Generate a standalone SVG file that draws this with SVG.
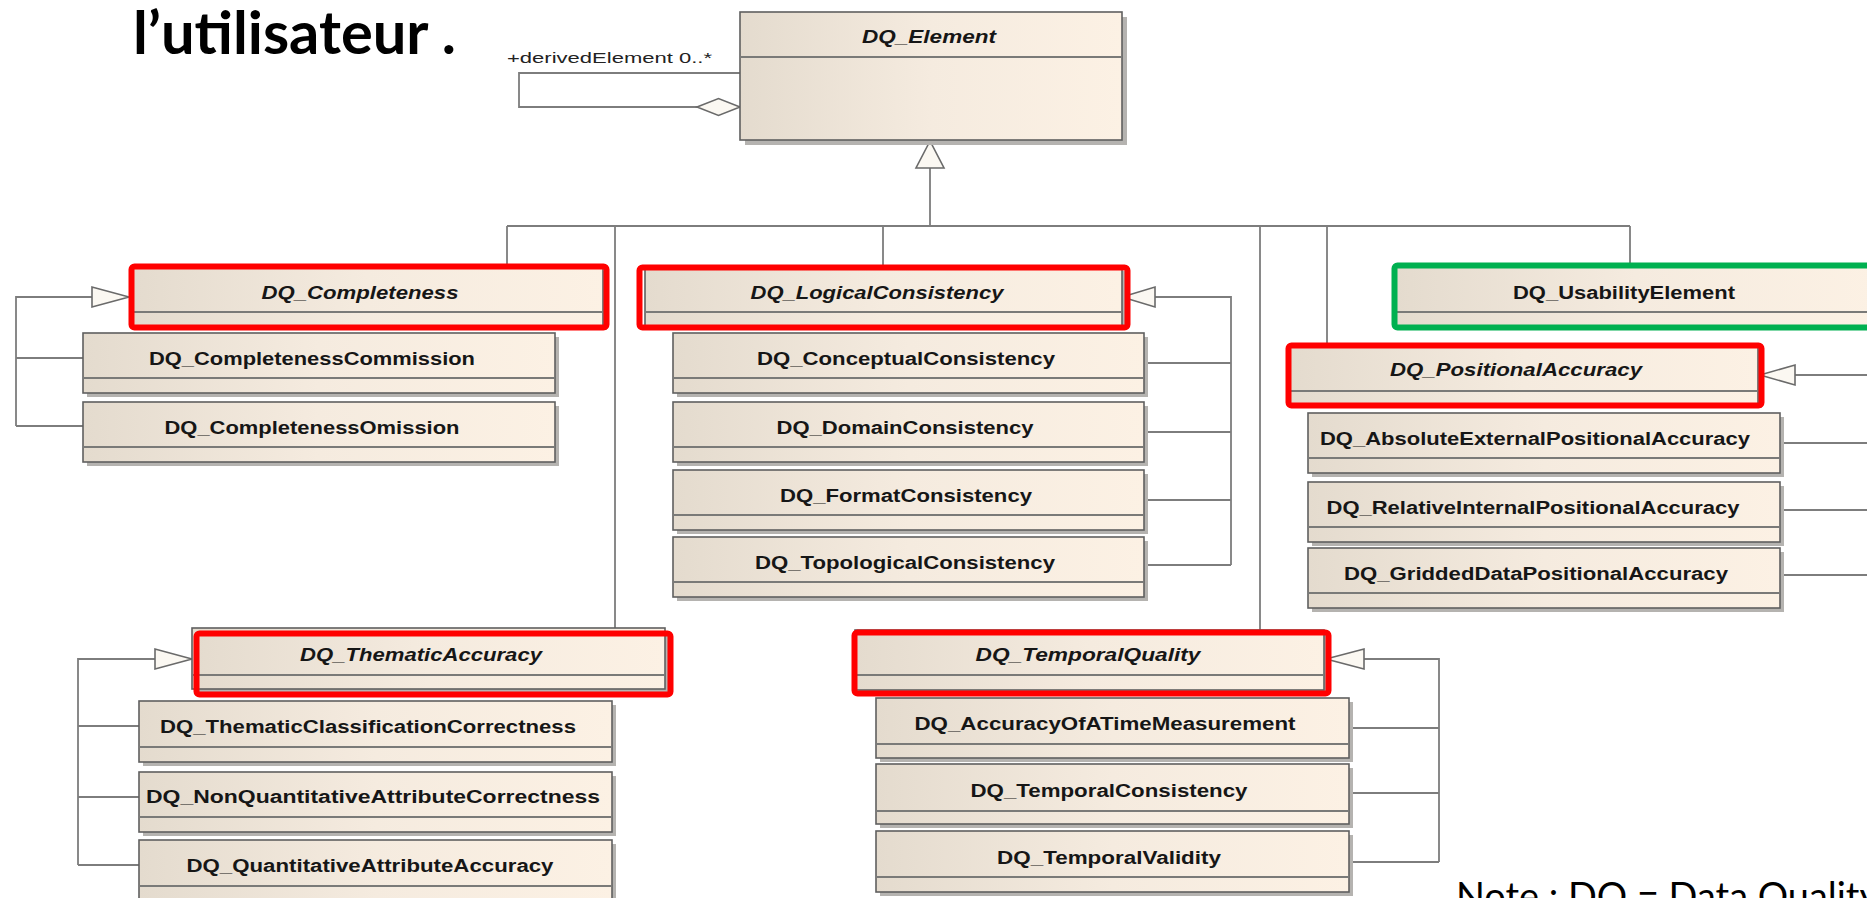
<svg xmlns="http://www.w3.org/2000/svg" width="1867" height="898" viewBox="0 0 1867 898">
  <defs>
    <linearGradient id="fill" x1="0" y1="0" x2="1" y2="0">
      <stop offset="0" stop-color="#e4dbce"/>
      <stop offset="0.5" stop-color="#f5ebdf"/>
      <stop offset="1" stop-color="#fcf1e4"/>
    </linearGradient>
  </defs>
  <style>
    .shadow { fill: #b5b3b0; }
    .box { fill: url(#fill); stroke: #5f5f5f; stroke-width: 1.6; }
    .div { stroke: #7a7a78; stroke-width: 1.8; }
    .lbl { font-family: "Liberation Sans", Arial, sans-serif; font-weight: bold; font-size: 18px; fill: #161616; text-anchor: middle; }
    .it { font-style: italic; }
    .conn { fill: none; stroke: #7d7d7d; stroke-width: 1.8; }
    .head { fill: #fbf8f2; stroke: #6a6a6a; stroke-width: 1.6; }
    .hl-red { fill: none; stroke: #ff0000; stroke-width: 6; }
    .hl-green { fill: none; stroke: #00b050; stroke-width: 6; }
  </style>

  <rect width="1867" height="898" fill="#ffffff"/>

  <!-- heading fragment and footnote -->
  <text x="133" y="54" font-family="Lato, 'Open Sans', sans-serif" font-weight="bold" font-size="60" textLength="323" lengthAdjust="spacingAndGlyphs" fill="#000">l’utilisateur .</text>
  <text x="1456" y="910" font-family="Lato, 'Open Sans', sans-serif" font-size="38" textLength="423" lengthAdjust="spacingAndGlyphs" fill="#000">Note : DQ = Data Quality</text>

  <!-- connectors -->
  <g id="connectors">
    <!-- self aggregation on DQ_Element -->
    <path class="conn" d="M740,73 H519 V107 H697"/>
    <polygon class="head" points="697,107 718.5,98.5 740,107 718.5,115.5"/>
    <text x="507" y="63" font-family="'Liberation Sans', Arial, sans-serif" font-size="15" textLength="205" lengthAdjust="spacingAndGlyphs" fill="#222">+derivedElement 0..*</text>

    <!-- generalization bus to DQ_Element -->
    <path class="conn" d="M930,168 V226 M507,226 H1630 M507,226 V266 M615,226 V628 M883,226 V266 M1260,226 V630 M1327,226 V345 M1630,226 V266"/>
    <polygon class="head" points="930,141 916,168 944,168"/>

    <!-- DQ_Completeness subtypes -->
    <path class="conn" d="M92,297 H16 V426 M16,358 H83 M16,426 H83"/>
    <polygon class="head" points="129,297 92,287 92,307"/>

    <!-- DQ_LogicalConsistency subtypes -->
    <path class="conn" d="M1155,297 H1231 V565 M1231,363 H1144 M1231,432 H1144 M1231,500 H1144 M1231,565 H1144"/>
    <polygon class="head" points="1122,297 1155,287 1155,307"/>

    <!-- DQ_PositionalAccuracy subtypes -->
    <path class="conn" d="M1795,375 H1870 M1870,443 H1780 M1870,510 H1780 M1870,575 H1780"/>
    <polygon class="head" points="1760,375 1795,365 1795,385"/>

    <!-- DQ_ThematicAccuracy subtypes -->
    <path class="conn" d="M155,659 H78 V865 M78,726 H139 M78,797 H139 M78,865 H139"/>
    <polygon class="head" points="192,659 155,649 155,669"/>

    <!-- DQ_TemporalQuality subtypes -->
    <path class="conn" d="M1364,659 H1439 V862 M1439,728 H1349 M1439,793 H1349 M1439,862 H1349"/>
    <polygon class="head" points="1326,659 1364,649 1364,669"/>
  </g>

  <!-- root class -->
  <g id="dq-element">
    <rect class="shadow" x="745" y="17" width="382" height="128"/>
    <rect class="box" x="740" y="12" width="382" height="128"/>
    <line class="div" x1="740" y1="57" x2="1122" y2="57"/>
    <text class="lbl it" x="929" y="43" font-size="17" textLength="134" lengthAdjust="spacingAndGlyphs">DQ_Element</text>
  </g>

  <!-- completeness -->
  <g id="dq-completeness">
    <rect class="shadow" x="135" y="271" width="472" height="59"/>
    <rect class="box" x="131" y="267" width="472" height="59"/>
    <line class="div" x1="131" y1="312" x2="603" y2="312"/>
    <text class="lbl it" x="360" y="299" textLength="197" lengthAdjust="spacingAndGlyphs">DQ_Completeness</text>
    <rect class="hl-red" x="131.5" y="266.5" width="475" height="61" rx="3"/>
  </g>
  <g id="dq-completeness-commission">
    <rect class="shadow" x="87" y="337" width="472" height="60"/>
    <rect class="box" x="83" y="333" width="472" height="60"/>
    <line class="div" x1="83" y1="378" x2="555" y2="378"/>
    <text class="lbl" x="312" y="365" textLength="326" lengthAdjust="spacingAndGlyphs">DQ_CompletenessCommission</text>
  </g>
  <g id="dq-completeness-omission">
    <rect class="shadow" x="87" y="406" width="472" height="60"/>
    <rect class="box" x="83" y="402" width="472" height="60"/>
    <line class="div" x1="83" y1="447" x2="555" y2="447"/>
    <text class="lbl" x="312" y="434" textLength="295" lengthAdjust="spacingAndGlyphs">DQ_CompletenessOmission</text>
  </g>

  <!-- logical consistency -->
  <g id="dq-logical-consistency">
    <rect class="shadow" x="649" y="271" width="477" height="59"/>
    <rect class="box" x="645" y="267" width="477" height="59"/>
    <line class="div" x1="645" y1="312" x2="1122" y2="312"/>
    <text class="lbl it" x="877" y="299" textLength="253" lengthAdjust="spacingAndGlyphs">DQ_LogicalConsistency</text>
    <rect class="hl-red" x="639.5" y="267.5" width="488" height="60" rx="3"/>
  </g>
  <g id="dq-conceptual-consistency">
    <rect class="shadow" x="677" y="337" width="471" height="60"/>
    <rect class="box" x="673" y="333" width="471" height="60"/>
    <line class="div" x1="673" y1="378" x2="1144" y2="378"/>
    <text class="lbl" x="906" y="365" textLength="298" lengthAdjust="spacingAndGlyphs">DQ_ConceptualConsistency</text>
  </g>
  <g id="dq-domain-consistency">
    <rect class="shadow" x="677" y="406" width="471" height="60"/>
    <rect class="box" x="673" y="402" width="471" height="60"/>
    <line class="div" x1="673" y1="447" x2="1144" y2="447"/>
    <text class="lbl" x="905" y="434" textLength="257" lengthAdjust="spacingAndGlyphs">DQ_DomainConsistency</text>
  </g>
  <g id="dq-format-consistency">
    <rect class="shadow" x="677" y="474" width="471" height="60"/>
    <rect class="box" x="673" y="470" width="471" height="60"/>
    <line class="div" x1="673" y1="515" x2="1144" y2="515"/>
    <text class="lbl" x="906" y="502" textLength="252" lengthAdjust="spacingAndGlyphs">DQ_FormatConsistency</text>
  </g>
  <g id="dq-topological-consistency">
    <rect class="shadow" x="677" y="541" width="471" height="60"/>
    <rect class="box" x="673" y="537" width="471" height="60"/>
    <line class="div" x1="673" y1="582" x2="1144" y2="582"/>
    <text class="lbl" x="905" y="569" textLength="300" lengthAdjust="spacingAndGlyphs">DQ_TopologicalConsistency</text>
  </g>

  <!-- usability -->
  <g id="dq-usability-element">
    <rect class="shadow" x="1400" y="271" width="480" height="59"/>
    <rect class="box" x="1396" y="267" width="480" height="59"/>
    <line class="div" x1="1396" y1="312" x2="1876" y2="312"/>
    <text class="lbl" x="1624" y="299" textLength="222" lengthAdjust="spacingAndGlyphs">DQ_UsabilityElement</text>
    <rect class="hl-green" x="1394.5" y="265.5" width="480" height="62" rx="3"/>
  </g>

  <!-- positional accuracy -->
  <g id="dq-positional-accuracy">
    <rect class="shadow" x="1294" y="349" width="468" height="59"/>
    <rect class="box" x="1290" y="345" width="468" height="59"/>
    <line class="div" x1="1290" y1="391" x2="1758" y2="391"/>
    <text class="lbl it" x="1516" y="376" textLength="252" lengthAdjust="spacingAndGlyphs">DQ_PositionalAccuracy</text>
    <rect class="hl-red" x="1288.5" y="345.5" width="473" height="60" rx="3"/>
  </g>
  <g id="dq-absolute-external-positional-accuracy">
    <rect class="shadow" x="1312" y="417" width="472" height="60"/>
    <rect class="box" x="1308" y="413" width="472" height="60"/>
    <line class="div" x1="1308" y1="458" x2="1780" y2="458"/>
    <text class="lbl" x="1535" y="445" textLength="430" lengthAdjust="spacingAndGlyphs">DQ_AbsoluteExternalPositionalAccuracy</text>
  </g>
  <g id="dq-relative-internal-positional-accuracy">
    <rect class="shadow" x="1312" y="486" width="472" height="60"/>
    <rect class="box" x="1308" y="482" width="472" height="60"/>
    <line class="div" x1="1308" y1="527" x2="1780" y2="527"/>
    <text class="lbl" x="1533" y="514" textLength="413" lengthAdjust="spacingAndGlyphs">DQ_RelativeInternalPositionalAccuracy</text>
  </g>
  <g id="dq-gridded-data-positional-accuracy">
    <rect class="shadow" x="1312" y="552" width="472" height="60"/>
    <rect class="box" x="1308" y="548" width="472" height="60"/>
    <line class="div" x1="1308" y1="593" x2="1780" y2="593"/>
    <text class="lbl" x="1536" y="580" textLength="384" lengthAdjust="spacingAndGlyphs">DQ_GriddedDataPositionalAccuracy</text>
  </g>

  <!-- thematic accuracy -->
  <g id="dq-thematic-accuracy">
    <rect class="shadow" x="196" y="632" width="473" height="61"/>
    <rect class="box" x="192" y="628" width="473" height="61"/>
    <line class="div" x1="192" y1="675" x2="665" y2="675"/>
    <text class="lbl it" x="421" y="661" textLength="242" lengthAdjust="spacingAndGlyphs">DQ_ThematicAccuracy</text>
    <rect class="hl-red" x="196.5" y="633.5" width="474" height="61" rx="3"/>
  </g>
  <g id="dq-thematic-classification-correctness">
    <rect class="shadow" x="143" y="705" width="473" height="61"/>
    <rect class="box" x="139" y="701" width="473" height="61"/>
    <line class="div" x1="139" y1="747" x2="612" y2="747"/>
    <text class="lbl" x="368" y="733" textLength="416" lengthAdjust="spacingAndGlyphs">DQ_ThematicClassificationCorrectness</text>
  </g>
  <g id="dq-non-quantitative-attribute-correctness">
    <rect class="shadow" x="143" y="776" width="473" height="60"/>
    <rect class="box" x="139" y="772" width="473" height="60"/>
    <line class="div" x1="139" y1="817" x2="612" y2="817"/>
    <text class="lbl" x="373" y="803" textLength="454" lengthAdjust="spacingAndGlyphs">DQ_NonQuantitativeAttributeCorrectness</text>
  </g>
  <g id="dq-quantitative-attribute-accuracy">
    <rect class="shadow" x="143" y="844" width="473" height="60"/>
    <rect class="box" x="139" y="840" width="473" height="60"/>
    <line class="div" x1="139" y1="886" x2="612" y2="886"/>
    <text class="lbl" x="370" y="872" textLength="367" lengthAdjust="spacingAndGlyphs">DQ_QuantitativeAttributeAccuracy</text>
  </g>

  <!-- temporal quality -->
  <g id="dq-temporal-quality">
    <rect class="shadow" x="859" y="634" width="469" height="60"/>
    <rect class="box" x="855" y="630" width="469" height="60"/>
    <line class="div" x1="855" y1="675" x2="1324" y2="675"/>
    <text class="lbl it" x="1088" y="661" textLength="225" lengthAdjust="spacingAndGlyphs">DQ_TemporalQuality</text>
    <rect class="hl-red" x="854.5" y="632.5" width="474" height="61" rx="3"/>
  </g>
  <g id="dq-accuracy-of-a-time-measurement">
    <rect class="shadow" x="880" y="702" width="473" height="60"/>
    <rect class="box" x="876" y="698" width="473" height="60"/>
    <line class="div" x1="876" y1="744" x2="1349" y2="744"/>
    <text class="lbl" x="1105" y="730" textLength="381" lengthAdjust="spacingAndGlyphs">DQ_AccuracyOfATimeMeasurement</text>
  </g>
  <g id="dq-temporal-consistency">
    <rect class="shadow" x="880" y="768" width="473" height="60"/>
    <rect class="box" x="876" y="764" width="473" height="60"/>
    <line class="div" x1="876" y1="811" x2="1349" y2="811"/>
    <text class="lbl" x="1109" y="797" textLength="277" lengthAdjust="spacingAndGlyphs">DQ_TemporalConsistency</text>
  </g>
  <g id="dq-temporal-validity">
    <rect class="shadow" x="880" y="835" width="473" height="61"/>
    <rect class="box" x="876" y="831" width="473" height="61"/>
    <line class="div" x1="876" y1="877" x2="1349" y2="877"/>
    <text class="lbl" x="1109" y="864" textLength="224" lengthAdjust="spacingAndGlyphs">DQ_TemporalValidity</text>
  </g>
</svg>
